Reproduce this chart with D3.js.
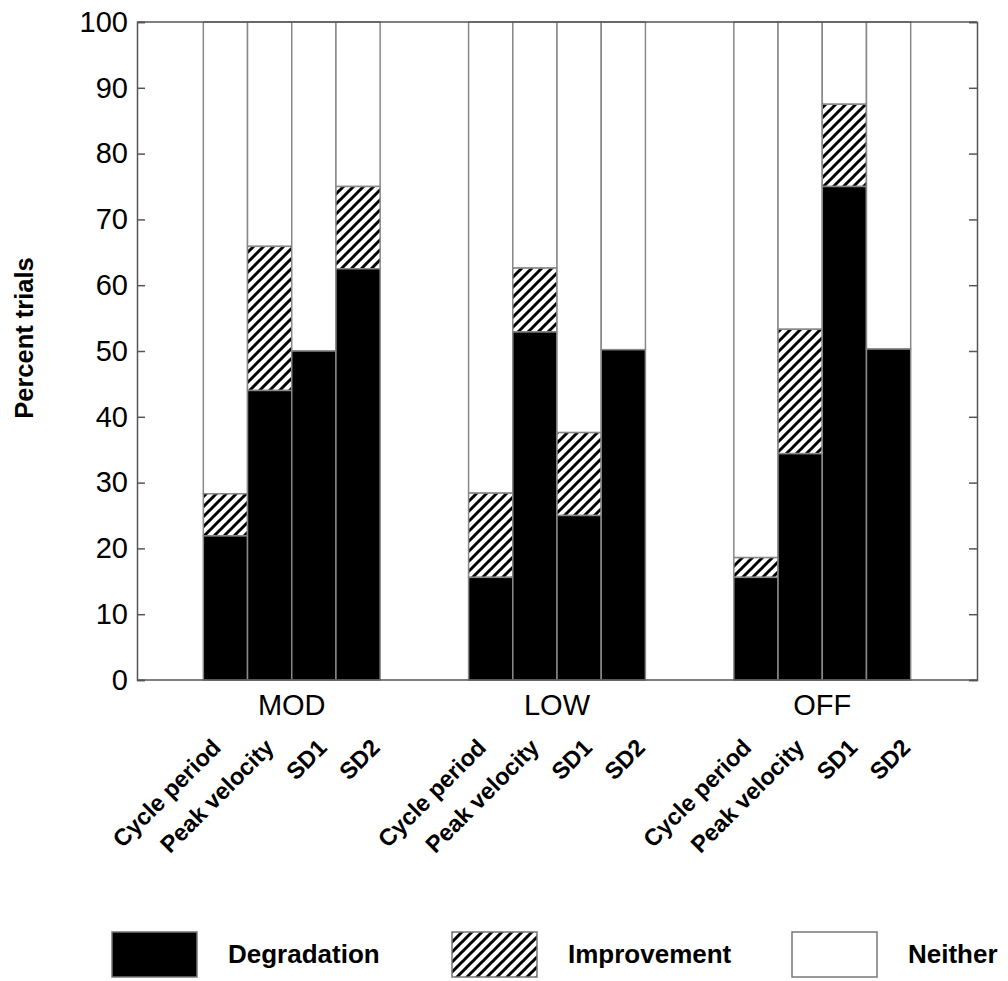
<!DOCTYPE html>
<html>
<head>
<meta charset="utf-8">
<script src="https://cdn.jsdelivr.net/npm/d3@7"></script>
<style>
  html, body { margin: 0; padding: 0; background: #fff; }
  svg { display: block; }
  text { font-family: "Liberation Sans", Arial, sans-serif; fill: #000; }
</style>
</head>
<body>
<svg id="chart" width="1008" height="981"></svg>
<script>
// ---- data ----
const groups = ["MOD", "LOW", "OFF"];
const metrics = ["Cycle period", "Peak velocity", "SD1", "SD2"];
// percent of trials with degradation, per group, per metric
const degradation = [
  [21.9, 44.0, 50.0, 62.5],
  [15.6, 52.9, 25.0, 50.2],
  [15.6, 34.4, 75.0, 50.3]
];
// percent of trials with improvement (stacked above degradation)
const improvement = [
  [6.4, 21.9, 0.0, 12.5],
  [12.8, 9.7, 12.6, 0.0],
  [3.0, 18.9, 12.5, 0.0]
];
const yTicks = [0, 10, 20, 30, 40, 50, 60, 70, 80, 90, 100];
const legendLabels = ["Degradation", "Improvement", "Neither"];
const yLabel = "Percent trials";

// ---- layout ----
const svg = d3.select("#chart");
const L = 137, R = 977, T = 22, B = 680;

const x0 = d3.scaleBand().domain(groups).range([L, R])
  .paddingInner(1 / 3).paddingOuter(0.25);
const x1 = d3.scaleBand().domain(metrics).range([0, x0.bandwidth()]).padding(0);
const y = d3.scaleLinear().domain([0, 100]).range([B, T]);

// hatch pattern
const defs = svg.append("defs");
const pat = defs.append("pattern")
  .attr("id", "hatch").attr("patternUnits", "userSpaceOnUse")
  .attr("width", 10).attr("height", 10);
pat.append("rect").attr("width", 10).attr("height", 10).attr("fill", "#fff");
pat.append("path")
  .attr("d", "M-2.5,2.5 L2.5,-2.5 M0,10 L10,0 M7.5,12.5 L12.5,7.5")
  .attr("stroke", "#000").attr("stroke-width", 3);

// build segments
const segs = [];
groups.forEach((g, gi) => {
  metrics.forEach((m, mi) => {
    const d = degradation[gi][mi], imp = improvement[gi][mi];
    segs.push({ g, m, y0: d + imp, y1: 100, fill: "#fff" });
    if (imp > 0) segs.push({ g, m, y0: d, y1: d + imp, fill: "url(#hatch)" });
    segs.push({ g, m, y0: 0, y1: d, fill: "#000" });
  });
});

svg.append("g").selectAll("rect").data(segs).join("rect")
  .attr("x", d => x0(d.g) + x1(d.m))
  .attr("width", x1.bandwidth())
  .attr("y", d => y(d.y1))
  .attr("height", d => y(d.y0) - y(d.y1))
  .attr("fill", d => d.fill)
  .attr("stroke", "#888").attr("stroke-width", 1.5);

// axes box
const axisColor = "#555";
const yAxisL = d3.axisLeft(y).tickValues(yTicks).tickSize(-8).tickPadding(9);
const gL = svg.append("g").attr("transform", `translate(${L},0)`).call(yAxisL);
gL.select(".domain").attr("stroke", axisColor).attr("stroke-width", 1.5);
gL.selectAll(".tick line").attr("stroke", axisColor).attr("stroke-width", 1.5);
gL.selectAll(".tick text")
  .style("font-family", '"Liberation Sans", Arial, sans-serif')
  .style("font-size", "29px").attr("fill", "#111");

const yAxisR = d3.axisRight(y).tickValues(yTicks).tickSize(-8).tickFormat("");
const gR = svg.append("g").attr("transform", `translate(${R},0)`).call(yAxisR);
gR.select(".domain").attr("stroke", axisColor).attr("stroke-width", 1.5);
gR.selectAll(".tick line").attr("stroke", axisColor).attr("stroke-width", 1.5);

svg.append("line").attr("x1", L).attr("x2", R).attr("y1", T).attr("y2", T)
  .attr("stroke", axisColor).attr("stroke-width", 1.5);
svg.append("line").attr("x1", L).attr("x2", R).attr("y1", B).attr("y2", B)
  .attr("stroke", axisColor).attr("stroke-width", 1.5);

// group labels
svg.append("g").selectAll("text").data(groups).join("text")
  .attr("x", g => x0(g) + x0.bandwidth() / 2)
  .attr("y", 715)
  .attr("text-anchor", "middle")
  .style("font-size", "29px").attr("fill", "#111")
  .text(g => g);

// rotated metric labels
const spread = 53;
groups.forEach(g => {
  const gc = x0(g) + x0.bandwidth() / 2;
  metrics.forEach((m, i) => {
    const ax = gc + 10 + (i - 1.5) * spread;
    const ay = 749;
    svg.append("text")
      .attr("transform", `translate(${ax},${ay}) rotate(-45)`)
      .attr("text-anchor", "end")
      .style("font-size", "23.5px").style("font-weight", "bold")
      .text(m);
  });
});

// y label
svg.append("text")
  .attr("transform", `translate(33,338) rotate(-90)`)
  .attr("text-anchor", "middle")
  .style("font-size", "25.5px").style("font-weight", "bold")
  .text(yLabel);

// legend
const legendFills = ["#000", "url(#hatch)", "#fff"];
const legendX = [112, 452, 792];
const lg = svg.append("g").selectAll("g").data(legendLabels).join("g")
  .attr("transform", (d, i) => `translate(${legendX[i]},932)`);
lg.append("rect").attr("width", 85).attr("height", 45)
  .attr("fill", (d, i) => legendFills[i])
  .attr("stroke", "#777").attr("stroke-width", 1.5);
lg.append("text").attr("x", 116).attr("y", 31)
  .style("font-size", "26px").style("font-weight", "bold")
  .text(d => d);
</script>
</body>
</html>
